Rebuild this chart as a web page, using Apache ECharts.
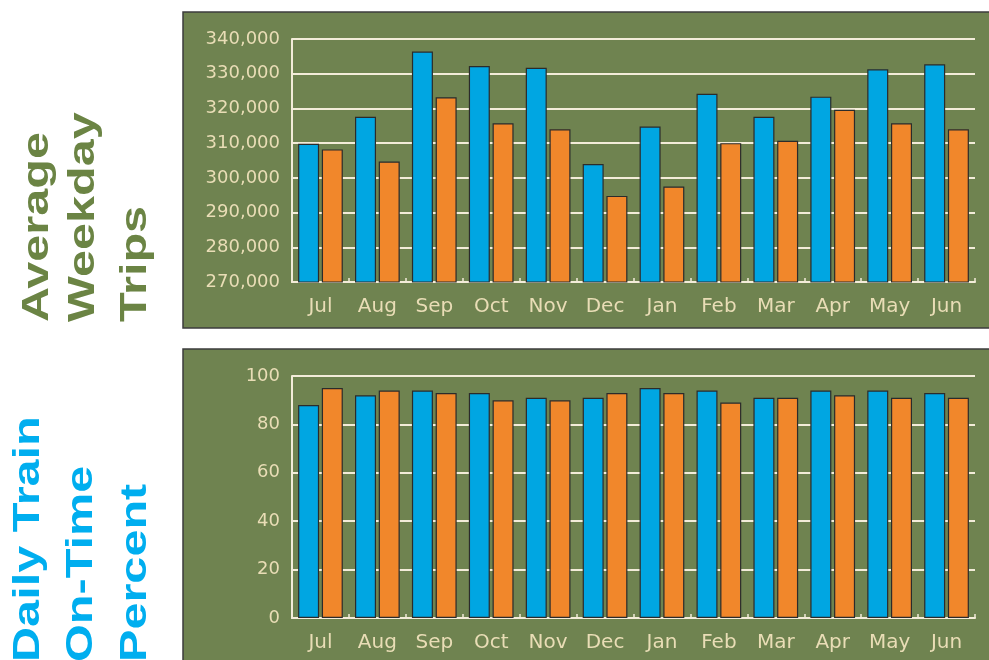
<!DOCTYPE html>
<html>
<head>
<meta charset="utf-8">
<script src="https://cdn.jsdelivr.net/npm/echarts@6/dist/echarts.min.js"></script>
<style>
html,body{margin:0;padding:0;background:#ffffff;}
#chart{width:989px;height:660px;}
</style>
</head>
<body>
<div id="chart"></div>
<script>
// ---- data ----
const months = ['Jul','Aug','Sep','Oct','Nov','Dec','Jan','Feb','Mar','Apr','May','Jun'];
const tripsBlue   = [309800, 317600, 336400, 332200, 331700, 304000, 314800, 324200, 317600, 323400, 331300, 332700];
const tripsOrange = [308200, 304700, 323200, 315700, 314000, 294800, 297500, 310000, 310700, 319600, 315700, 314000];
const onTimeBlue   = [88, 92, 94, 93, 91, 91, 95, 94, 91, 94, 94, 93];
const onTimeOrange = [95, 94, 93, 90, 90, 93, 93, 89, 91, 92, 91, 91];
const tripsTicks = { min: 270000, max: 340000, interval: 10000 };
const pctTicks = { min: 0, max: 100, interval: 20 };
const titleTop = ['Average', 'Weekday', 'Trips'];
const titleBottom = ['Daily Train', 'On-Time', 'Percent'];

// ---- style ----
const PANEL = '#6f8350';
const GRID = '#f3ecd9';
const LABEL = '#e9ddb6';
const BLUE = '#00a6e2';
const ORANGE = '#f1872b';
const EDGE = '#2b2b2b';
const labelFont = 'DejaVu Sans';

const chart = echarts.init(document.getElementById('chart'), null, {renderer: 'canvas'});

function xAxis(gi) {
  return {
    type: 'category', gridIndex: gi, data: months,
    axisLine: {show: true, lineStyle: {color: GRID, width: 2}},
    axisTick: {show: true, inside: true, length: 4, lineStyle: {color: GRID, width: 1.5}},
    axisLabel: {color: LABEL, fontFamily: labelFont, fontSize: 20, margin: 15},
    splitLine: {show: false}
  };
}
function yAxis(gi, t, fmt) {
  return {
    type: 'value', gridIndex: gi, min: t.min, max: t.max, interval: t.interval,
    axisLine: {show: true, lineStyle: {color: GRID, width: 2}},
    axisTick: {show: false},
    axisLabel: {color: LABEL, fontFamily: labelFont, fontSize: 18, margin: 12, formatter: fmt},
    splitLine: {show: true, lineStyle: {color: GRID, width: 2.2}}
  };
}
function barSeries(xi, data, color) {
  return {
    type: 'bar', xAxisIndex: xi, yAxisIndex: xi, data: data,
    barWidth: 21, barGap: '13%',
    itemStyle: {color: color, borderColor: EDGE, borderWidth: 1.2},
    animation: false
  };
}
function titleTexts(lines, xs, startY, color) {
  return lines.map((s, i) => ({
    type: 'text', x: xs[i], y: startY, rotation: Math.PI / 2, scaleX: 1.35, scaleY: 1,
    style: {text: s, fill: color, font: 'bold 36px "Liberation Sans", Arial, sans-serif',
            textAlign: 'left', textVerticalAlign: 'top'}
  }));
}

const option = {
  backgroundColor: '#ffffff',
  animation: false,
  grid: [
    {left: 292, right: 14, top: 39, height: 243},
    {left: 292, right: 14, top: 376, height: 242}
  ],
  xAxis: [xAxis(0), xAxis(1)],
  yAxis: [
    yAxis(0, tripsTicks, v => v.toLocaleString('en-US')),
    yAxis(1, pctTicks, v => String(v))
  ],
  series: [
    barSeries(0, tripsBlue, BLUE),
    barSeries(0, tripsOrange, ORANGE),
    barSeries(1, onTimeBlue, BLUE),
    barSeries(1, onTimeOrange, ORANGE)
  ],
  graphic: [
    {type: 'rect', z: -10, shape: {x: 183, y: 12, width: 830, height: 316},
     style: {fill: PANEL, stroke: '#3c3c3c', lineWidth: 1.5}},
    {type: 'rect', z: -10, shape: {x: 183, y: 349, width: 830, height: 330},
     style: {fill: PANEL, stroke: '#3c3c3c', lineWidth: 1.5}}
  ].concat(
    titleTexts(titleTop, [20, 66, 118], 322, '#6b8444'),
    titleTexts(titleBottom, [11, 64, 118], 662, '#00aeef')
  )
};
chart.setOption(option);
</script>
</body>
</html>
